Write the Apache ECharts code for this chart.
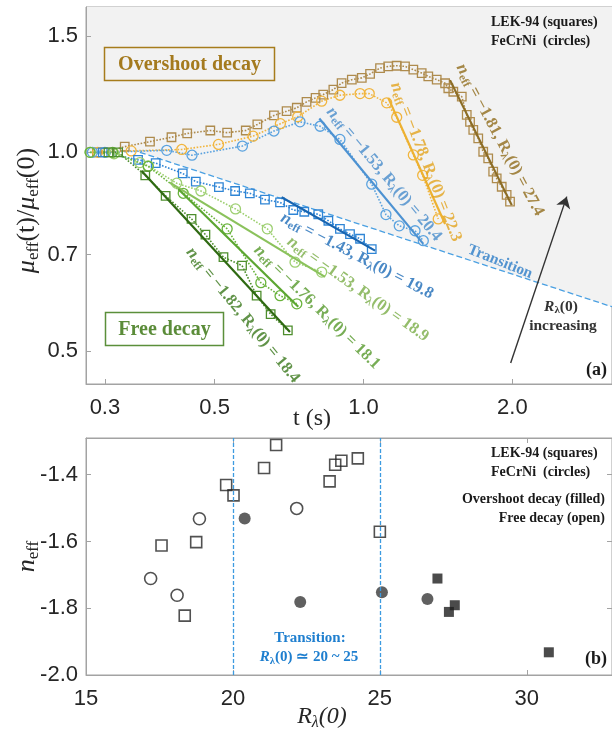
<!DOCTYPE html>
<html><head><meta charset="utf-8">
<script src="https://cdn.jsdelivr.net/npm/echarts@6/dist/echarts.min.js"></script>
<style>html,body{margin:0;padding:0;background:#fff}#c{width:612px;height:737px}</style>
</head><body><div id="c"></div>
<script>
// ---------- tick values ----------
const tTicks = [0.3, 0.5, 1.0, 2.0];
const muTicks = [0.5, 0.7, 1.0, 1.5];
const rTicks = [15, 20, 25, 30];
const nTicks = [-2.0, -1.8, -1.6, -1.4];

// ---------- panel (a): mu_eff(t)/mu_eff(0) vs t ----------
const lek274 = [[0.289,1.0],[0.300,1.0],[0.329,1.020],[0.370,1.038],[0.409,1.054],[0.440,1.068],[0.490,1.079],[0.530,1.071],[0.578,1.079],[0.610,1.102],[0.659,1.137],[0.699,1.154],[0.733,1.168],[0.767,1.192],[0.800,1.209],[0.829,1.223],[0.869,1.244],[0.903,1.273],[0.947,1.288],[0.992,1.296],[1.031,1.314],[1.080,1.341],[1.122,1.349],[1.167,1.352],[1.213,1.349],[1.261,1.334],[1.311,1.318],[1.352,1.303],[1.406,1.288],[1.462,1.272],[1.484,1.250],[1.519,1.235],[1.580,1.214],[1.617,1.139],[1.642,1.112],[1.667,1.081],[1.706,1.050],[1.746,1.002],[1.787,0.979],[1.829,0.935],[1.859,0.913],[1.903,0.887],[1.947,0.862],[1.978,0.842]];
const fe223 = [[0.290,1.0],[0.339,1.005],[0.429,1.010],[0.509,1.028],[0.598,1.058],[0.679,1.105],[0.736,1.132],[0.823,1.195],[0.896,1.220],[0.984,1.227],[1.027,1.227],[1.114,1.188],[1.167,1.130],[1.261,0.991],[1.317,0.923],[1.416,0.793]];
const fe204 = [[0.283,1.0],[0.300,1.0],[0.400,1.007],[0.450,0.990],[0.569,1.022],[0.659,1.077],[0.744,1.112],[0.817,1.095],[0.896,1.046],[1.039,0.895],[1.110,0.805],[1.181,0.774],[1.271,0.761],[1.321,0.735]];
const lek198 = [[0.297,1.0],[0.350,0.974],[0.380,0.963],[0.431,0.929],[0.458,0.903],[0.510,0.886],[0.550,0.874],[0.589,0.867],[0.632,0.848],[0.678,0.840],[0.721,0.818],[0.759,0.813],[0.810,0.806],[0.849,0.788],[0.896,0.766],[0.939,0.752],[0.984,0.740],[1.039,0.714]];
const fe189 = [[0.280,1.0],[0.313,0.995],[0.353,0.965],[0.367,0.954],[0.419,0.898],[0.469,0.874],[0.551,0.821],[0.639,0.766],[0.727,0.682],[0.823,0.659]];
const fe181 = [[0.280,1.0],[0.311,1.0],[0.367,0.952],[0.432,0.867],[0.530,0.766],[0.620,0.635],[0.678,0.607],[0.733,0.590]];
const lek184 = [[0.305,1.0],[0.319,1.0],[0.362,0.923],[0.398,0.859],[0.449,0.793],[0.479,0.751],[0.521,0.694],[0.568,0.674],[0.608,0.607],[0.649,0.569],[0.703,0.538]];

// power-law fits (end points)
const fit274 = [[1.496,1.286],[1.994,0.832]];
const fit223 = [[1.122,1.209],[1.462,0.779]];
const fit204 = [[0.814,1.125],[1.321,0.727]];
const fit198 = [[0.683,0.855],[1.055,0.710]];
const fit189 = [[0.406,0.900],[0.836,0.648]];
const fit181 = [[0.422,0.880],[0.738,0.584]];
const fit184 = [[0.356,0.937],[0.710,0.535]];

// transition boundary
const transLine = [[0.353,1.0],[3.18,0.584]];
const bgEdge = [[0.2747,1.0]];

// fit annotations
const annoPos = [[1.888,1.044],[1.337,0.967],[1.100,0.927],[0.970,0.697],[0.974,0.621],[0.805,0.583],[0.570,0.567]];
const annoN = ['−1.81','−1.78','−1.53','−1.43','−1.53','−1.76','−1.82'];
const annoR = ['27.4','22.3','20.4','19.8','18.9','18.1','18.4'];
const transLabelPos = [1.888,0.683];
const arrowLine = [[1.984,0.480],[2.576,0.857]];

// ---------- panel (b): n_eff vs R_lambda(0) ----------
const openSquares = [[17.57,-1.612],[18.36,-1.822],[18.75,-1.602],[19.77,-1.431],[20.02,-1.462],[21.06,-1.38],[21.47,-1.311],[23.29,-1.42],[23.48,-1.37],[23.69,-1.358],[24.25,-1.351],[25.0,-1.571]];
const openCircles = [[17.2,-1.711],[18.1,-1.761],[18.86,-1.532],[22.17,-1.501]];
const filledCircles = [[20.4,-1.531],[22.29,-1.781],[25.07,-1.752],[26.62,-1.772]];
const filledSquares = [[26.96,-1.711],[27.35,-1.811],[27.55,-1.791],[30.75,-1.932]];
const transitionRange = [20, 25];

// ---------- styling ----------
const SERIF = '"Liberation Serif","Times New Roman",serif';
const SANS = '"Liberation Sans",Arial,sans-serif';
const AX = '#a3a3a3';
const TXT = '#262626';

const C = {
  brown:  {m:'#ae8b4d', f:'#8c6d26', t:'#906c1a'},
  yellow: {m:'#f1b53e', f:'#edb131', t:'#e2a31c'},
  bcirc:  {m:'#5aa2df', f:'#4d92d2', t:'#468bcb'},
  bsq:    {m:'#2f85d5', f:'#1865b1', t:'#1b6ab7'},
  lgreen: {m:'#9dcf70', f:'#8bc25c', t:'#79ad46'},
  mgreen: {m:'#69b33b', f:'#5ca631', t:'#55992b'},
  dgreen: {m:'#4e8e2d', f:'#2f6a12', t:'#3a781b'}
};

function dotted(data, sym, color, size) {
  return {type:'line', xAxisIndex:0, yAxisIndex:0, data:data, symbol:sym, symbolSize:size, showSymbol:true,
    lineStyle:{type:'dotted', width:1.6, color:color},
    itemStyle:{color:'rgba(255,255,255,0)', borderColor:color, borderWidth:1.3},
    emphasis:{disabled:true}, z:3, silent:true};
}
function fitLine(data, color) {
  return {type:'line', xAxisIndex:0, yAxisIndex:0, data:data, symbol:'none',
    lineStyle:{color:color, width:2.2}, emphasis:{disabled:true}, z:4, silent:true};
}
function fitRich(color) {
  return {
    n:{fontFamily:SERIF, fontStyle:'italic', fontWeight:'bold', fontSize:17, color:color, lineHeight:20},
    s:{fontFamily:SERIF, fontWeight:'bold', fontSize:11.5, color:color, lineHeight:11, verticalAlign:'bottom'},
    t:{fontFamily:SERIF, fontWeight:'bold', fontSize:16.5, color:color, lineHeight:20}
  };
}
function anno(pos, textFn, rich, rot) {
  return {type:'scatter', xAxisIndex:0, yAxisIndex:0, data:[pos], symbolSize:1,
    itemStyle:{color:'rgba(0,0,0,0)'}, silent:true, z:6, emphasis:{disabled:true},
    label:{show:true, position:'inside', formatter:textFn, rotate:rot, align:'center', verticalAlign:'middle', rich:rich}};
}

const annoColors = [C.brown.t, C.yellow.t, C.bcirc.t, C.bsq.t, C.lgreen.t, C.mgreen.t, C.dgreen.t];
const annoRot = [-62, -68.5, -50, -27.5, -35.4, -44.3, -50.7];

const series = [
  // gray region above the transition line
  {type:'line', xAxisIndex:0, yAxisIndex:0, data:bgEdge.concat(transLine), symbol:'none',
   lineStyle:{width:0, opacity:0}, areaStyle:{color:'#f2f2f2', opacity:1, origin:'end'}, z:0, silent:true, emphasis:{disabled:true}},
  // transition dashed line (+ arrow)
  {type:'line', xAxisIndex:0, yAxisIndex:0, data:transLine, symbol:'none',
   lineStyle:{color:'#4aa0e2', width:1.3, type:[6,3]}, z:2, silent:true, emphasis:{disabled:true},
   markLine:{silent:true, symbol:['none','arrow'], symbolSize:11, label:{show:false},
     lineStyle:{color:'#333333', width:1.4, type:'solid'}, emphasis:{disabled:true},
     data:[[{coord:arrowLine[0]},{coord:arrowLine[1]}]]}},
  dotted(lek274, 'rect', C.brown.m, 8.5),
  dotted(fe223, 'circle', C.yellow.m, 10),
  dotted(fe204, 'circle', C.bcirc.m, 10),
  dotted(lek198, 'rect', C.bsq.m, 8.5),
  dotted(fe189, 'circle', C.lgreen.m, 10),
  dotted(fe181, 'circle', C.mgreen.m, 10),
  dotted(lek184, 'rect', C.dgreen.m, 8.5),
  fitLine(fit274, C.brown.f),
  fitLine(fit223, C.yellow.f),
  fitLine(fit204, C.bcirc.f),
  fitLine(fit198, C.bsq.f),
  fitLine(fit189, C.lgreen.f),
  fitLine(fit181, C.mgreen.f),
  fitLine(fit184, C.dgreen.f)
];
annoPos.forEach(function (p, i) {
  const N = annoN[i], R = annoR[i];
  series.push(anno(p, function () { return '{n|n}{s|eff}{t| = ' + N + ', R}{s|λ}{t|(0) = ' + R + '}'; }, fitRich(annoColors[i]), annoRot[i]));
});
const transAnno = anno(transLabelPos, function () { return 'Transition'; }, {}, -22);
transAnno.label.fontFamily = SERIF;
transAnno.label.fontWeight = 'bold';
transAnno.label.fontSize = 15.5;
transAnno.label.color = '#2a7cc7';
series.push(transAnno);

// panel (b) series
series.push({type:'scatter', xAxisIndex:1, yAxisIndex:1, data:openSquares, symbol:'rect', symbolSize:11,
  itemStyle:{color:'rgba(255,255,255,0)', borderColor:'#262626', borderWidth:1.6}, z:3, silent:true,
  markLine:{silent:true, symbol:['none','none'], label:{show:false}, emphasis:{disabled:true},
    lineStyle:{color:'#3d9be0', type:[4,2], width:1.3},
    data: transitionRange.map(function (v) { return {xAxis:v}; })}});
series.push({type:'scatter', xAxisIndex:1, yAxisIndex:1, data:openCircles, symbol:'circle', symbolSize:12,
  itemStyle:{color:'rgba(255,255,255,0)', borderColor:'#262626', borderWidth:1.6}, z:3, silent:true});
series.push({type:'scatter', xAxisIndex:1, yAxisIndex:1, data:filledCircles, symbol:'circle', symbolSize:12,
  itemStyle:{color:'#383838'}, z:3, silent:true});
series.push({type:'scatter', xAxisIndex:1, yAxisIndex:1, data:filledSquares, symbol:'rect', symbolSize:10,
  itemStyle:{color:'#1e1e1e'}, z:3, silent:true});

const tickLbl = {fontFamily:SANS, fontSize:22, color:TXT};
const nameRichBase = {
  m:{fontFamily:SERIF, fontStyle:'italic', fontSize:26, lineHeight:30, color:TXT},
  s:{fontFamily:SERIF, fontSize:17, lineHeight:17, verticalAlign:'bottom', color:TXT},
  si:{fontFamily:SERIF, fontStyle:'italic', fontSize:16, lineHeight:16, verticalAlign:'bottom', color:TXT},
  p:{fontFamily:SERIF, fontSize:26, lineHeight:30, color:TXT},
  pi:{fontFamily:SERIF, fontStyle:'italic', fontSize:24, lineHeight:28, color:TXT}
};

const option = {
  animation:false,
  backgroundColor:'#ffffff',
  grid:[
    {left:86, top:7, width:526, height:377, show:true, borderColor:AX, borderWidth:1, backgroundColor:'rgba(0,0,0,0)', containLabel:false, outerBoundsMode:'none'},
    {left:86, top:438, width:526, height:237, show:true, borderColor:AX, borderWidth:1, backgroundColor:'rgba(0,0,0,0)', containLabel:false, outerBoundsMode:'none'}
  ],
  xAxis:[
    {gridIndex:0, type:'log', logBase:10, min:0.2747, max:3.18,
     axisLine:{show:true, onZero:false, lineStyle:{color:AX, width:1}},
     axisTick:{show:true, inside:true, length:5, customValues:tTicks, lineStyle:{color:AX}},
     axisLabel:Object.assign({show:true, customValues:tTicks, margin:13, formatter:function (v) { return Number(v).toFixed(1); }}, tickLbl),
     splitLine:{show:false}, minorTick:{show:false}, minorSplitLine:{show:false},
     name:'t (s)', nameLocation:'middle', nameGap:21, nameMoveOverlap:false,
     nameTextStyle:{fontFamily:SERIF, fontSize:24, lineHeight:28, color:TXT, padding:[0,74,0,0]}},
    {gridIndex:1, type:'value', min:15, max:32.9,
     axisLine:{show:true, onZero:false, lineStyle:{color:AX, width:1}},
     axisTick:{show:true, inside:true, length:5, customValues:rTicks, lineStyle:{color:AX}},
     axisLabel:Object.assign({show:true, customValues:rTicks, margin:13, formatter:function (v) { return String(v); }}, tickLbl),
     splitLine:{show:false},
     name:'{pi|R}{si|λ}{pi|(0)}', nameLocation:'middle', nameGap:28, nameMoveOverlap:false,
     nameTextStyle:{rich:nameRichBase, padding:[0,54,0,0]}},
    {gridIndex:1, type:'value', position:'top', min:15, max:32.9,
     axisLine:{show:true, onZero:false, lineStyle:{color:AX, width:1}},
     axisTick:{show:true, inside:true, length:5, customValues:rTicks, lineStyle:{color:AX}},
     axisLabel:{show:false}, splitLine:{show:false}}
  ],
  yAxis:[
    {gridIndex:0, type:'log', logBase:10, min:0.4462, max:1.659,
     axisLine:{show:true, onZero:false, lineStyle:{color:AX, width:1}},
     axisTick:{show:true, inside:true, length:5, customValues:muTicks, lineStyle:{color:AX}},
     axisLabel:Object.assign({show:true, customValues:muTicks, margin:8, formatter:function (v) { return Number(v).toFixed(1); }}, tickLbl),
     splitLine:{show:false}, minorTick:{show:false}, minorSplitLine:{show:false},
     name:'{m|μ}{s|eff}{p|(t)/}{m|μ}{s|eff}{p|(0)}', nameLocation:'middle', nameRotate:90, nameGap:44, nameMoveOverlap:false,
     nameTextStyle:{rich:nameRichBase, padding:[0,30,0,0]}},
    {gridIndex:1, type:'value', min:-2.0, max:-1.29,
     axisLine:{show:true, onZero:false, lineStyle:{color:AX, width:1}},
     axisTick:{show:true, inside:true, length:5, customValues:nTicks, lineStyle:{color:AX}},
     axisLabel:Object.assign({show:true, customValues:nTicks, margin:8, formatter:function (v) { return Number(v).toFixed(1); }}, tickLbl),
     splitLine:{show:false},
     name:'{m|n}{s|eff}', nameLocation:'middle', nameRotate:90, nameGap:44, nameMoveOverlap:false,
     nameTextStyle:{rich:nameRichBase}},
    {gridIndex:1, type:'value', position:'right', min:-2.0, max:-1.29,
     axisLine:{show:true, onZero:false, lineStyle:{color:AX, width:1}},
     axisTick:{show:true, inside:true, length:5, customValues:nTicks, lineStyle:{color:AX}},
     axisLabel:{show:false}, splitLine:{show:false}}
  ],
  series:series,
  graphic:[
    {type:'rect', shape:{x:104.5, y:47.5, width:170, height:33}, style:{fill:'none', stroke:'#a67c1c', lineWidth:1.5}, z:100},
    {type:'text', x:189.5, y:64.5, z:100, style:{text:'Overshoot decay', font:'bold 20px ' + SERIF, fill:'#a47a1e', textAlign:'center', textVerticalAlign:'middle', align:'center', verticalAlign:'middle'}},
    {type:'rect', shape:{x:105.5, y:312.5, width:118, height:33}, style:{fill:'#ffffff', stroke:'#5b8f3b', lineWidth:1.5}, z:100},
    {type:'text', x:164.5, y:329.5, z:101, style:{text:'Free decay', font:'bold 20px ' + SERIF, fill:'#5b8c39', textAlign:'center', textVerticalAlign:'middle', align:'center', verticalAlign:'middle'}},
    {type:'text', x:491, y:22, z:100, style:{text:'LEK-94 (squares)', font:'bold 14px ' + SERIF, fill:'#1a1a1a', textAlign:'left', textVerticalAlign:'middle', align:'left', verticalAlign:'middle'}},
    {type:'text', x:491, y:41, z:100, style:{text:'FeCrNi  (circles)', font:'bold 14px ' + SERIF, fill:'#1a1a1a', textAlign:'left', textVerticalAlign:'middle', align:'left', verticalAlign:'middle'}},
    {type:'text', x:561, y:307, z:100, style:{text:'{r|R}{s|λ}{t|(0)}', textAlign:'center', textVerticalAlign:'middle', align:'center', verticalAlign:'middle',
      rich:{r:{fontFamily:SERIF, fontStyle:'italic', fontWeight:'bold', fontSize:15.5, fill:'#333333', lineHeight:18},
            s:{fontFamily:SERIF, fontWeight:'bold', fontSize:11, fill:'#333333', lineHeight:11, verticalAlign:'bottom'},
            t:{fontFamily:SERIF, fontWeight:'bold', fontSize:15.5, fill:'#333333', lineHeight:18}}}},
    {type:'text', x:563, y:326, z:100, style:{text:'increasing', font:'bold 15.5px ' + SERIF, fill:'#333333', textAlign:'center', textVerticalAlign:'middle', align:'center', verticalAlign:'middle'}},
    {type:'text', x:607, y:370, z:100, style:{text:'(a)', font:'bold 18px ' + SERIF, fill:'#1a1a1a', textAlign:'right', textVerticalAlign:'middle', align:'right', verticalAlign:'middle'}},
    {type:'text', x:491, y:453.5, z:100, style:{text:'LEK-94 (squares)', font:'bold 14px ' + SERIF, fill:'#1a1a1a', textAlign:'left', textVerticalAlign:'middle', align:'left', verticalAlign:'middle'}},
    {type:'text', x:491, y:472.5, z:100, style:{text:'FeCrNi  (circles)', font:'bold 14px ' + SERIF, fill:'#1a1a1a', textAlign:'left', textVerticalAlign:'middle', align:'left', verticalAlign:'middle'}},
    {type:'text', x:605, y:499, z:100, style:{text:'Overshoot decay (filled)', font:'bold 14px ' + SERIF, fill:'#1a1a1a', textAlign:'right', textVerticalAlign:'middle', align:'right', verticalAlign:'middle'}},
    {type:'text', x:605, y:518, z:100, style:{text:'Free decay (open)', font:'bold 14px ' + SERIF, fill:'#1a1a1a', textAlign:'right', textVerticalAlign:'middle', align:'right', verticalAlign:'middle'}},
    {type:'text', x:310, y:638.5, z:100, style:{text:'Transition:', font:'bold 15px ' + SERIF, fill:'#1f7fcf', textAlign:'center', textVerticalAlign:'middle', align:'center', verticalAlign:'middle'}},
    {type:'text', x:309, y:657.5, z:100, style:{text:'{r|R}{s|λ}{t|(0) ≃ 20 ~ 25}', textAlign:'center', textVerticalAlign:'middle', align:'center', verticalAlign:'middle',
      rich:{r:{fontFamily:SERIF, fontStyle:'italic', fontWeight:'bold', fontSize:15, fill:'#1f7fcf', lineHeight:18},
            s:{fontFamily:SERIF, fontWeight:'bold', fontSize:10.5, fill:'#1f7fcf', lineHeight:10, verticalAlign:'bottom'},
            t:{fontFamily:SERIF, fontWeight:'bold', fontSize:15, fill:'#1f7fcf', lineHeight:18}}}},
    {type:'text', x:607, y:659, z:100, style:{text:'(b)', font:'bold 18px ' + SERIF, fill:'#1a1a1a', textAlign:'right', textVerticalAlign:'middle', align:'right', verticalAlign:'middle'}}
  ]
};

const chart = echarts.init(document.getElementById('c'), null, {renderer:'canvas', width:612, height:737});
chart.setOption(option);
</script>
</body></html>
